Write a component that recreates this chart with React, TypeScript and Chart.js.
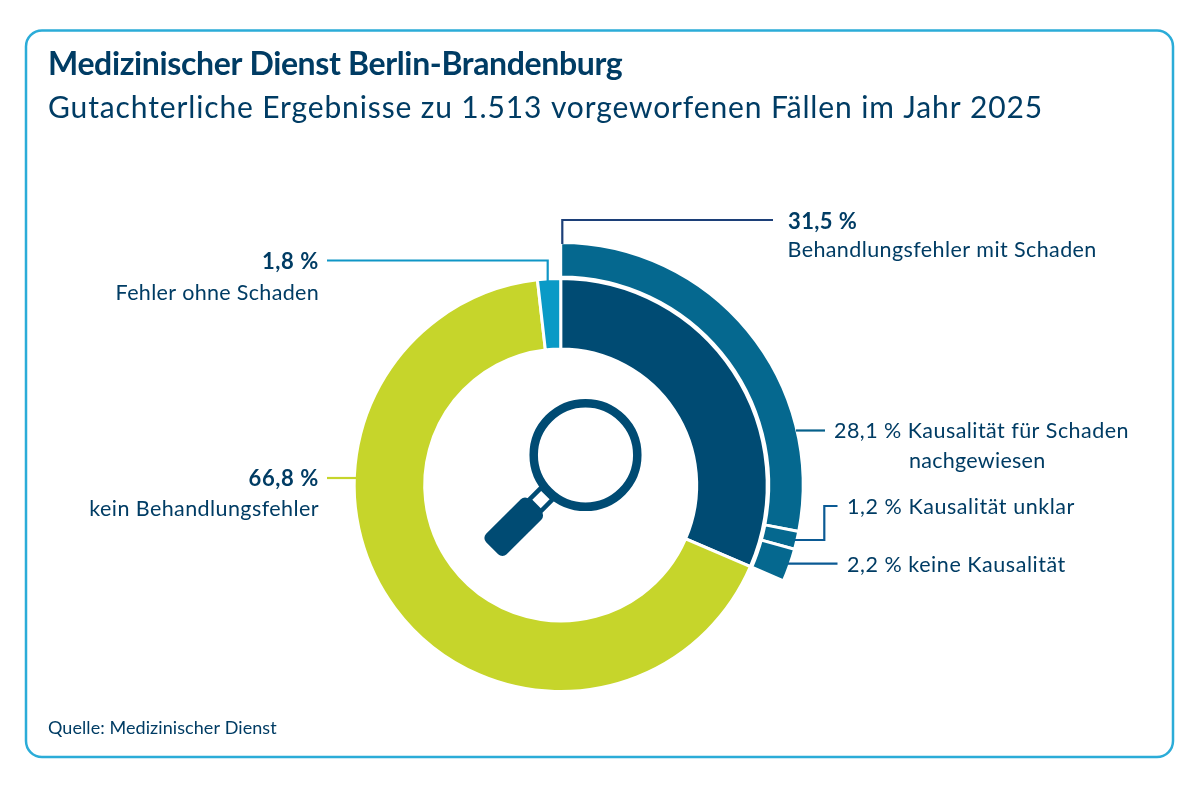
import { useEffect, useRef } from "react";
import { Chart, registerables } from "chart.js";

Chart.register(...registerables);

const outerLabels = ["Kausalität für Schaden nachgewiesen", "Kausalität unklar", "keine Kausalität", "Rest"];
const outerValues = [28.1, 1.2, 2.2, 68.6];
const outerColors = ["#05688f", "#05688f", "#05688f", "transparent"];
const outerBorders = [3, 3, 3, 0];

const innerLabels = ["Behandlungsfehler mit Schaden", "kein Behandlungsfehler", "Fehler ohne Schaden"];
const innerValues = [31.5, 66.8, 1.8];
const innerColors = ["#004b73", "#c6d52b", "#0a9ac6"];

const NAVY = "#003c64";
const FONT = "Lato";

type Txt = [string, number, number, number, boolean?, CanvasTextAlign?, number?];

// text, x, y, size, bold, align, letter spacing
const texts: Txt[] = [
  ["Medizinischer Dienst Berlin-Brandenburg", 48, 75, 32, true, "left", -0.36],
  ["Gutachterliche Ergebnisse zu 1.513 vorgeworfenen Fällen im Jahr 2025", 48, 118, 30, false, "left", 0.87],
  ["31,5 %", 788, 228.5, 22, true, "left", 0.4],
  ["Behandlungsfehler mit Schaden", 787.5, 257, 21.5, false, "left", 0.4],
  ["1,8 %", 319, 269, 22, true, "right", 0.6],
  ["Fehler ohne Schaden", 319, 299.5, 21.5, false, "right", 0.32],
  ["66,8 %", 319, 485.5, 22, true, "right", 0.6],
  ["kein Behandlungsfehler", 319, 516, 21.5, false, "right", 0.42],
  ["28,1 % Kausalität für Schaden", 834, 438, 21.5, false, "left", 0.45],
  ["nachgewiesen", 909, 468, 21.5, false, "left", 0.27],
  ["1,2 % Kausalität unklar", 847, 514, 21.5, false, "left", 0.56],
  ["2,2 % keine Kausalität", 847, 572, 21.5, false, "left", 0.55],
  ["Quelle: Medizinischer Dienst", 48, 734, 18, false, "left", 0.07],
];

// leader lines from the labels to the rings
const leaders: { color: string; pts: number[][] }[] = [
  { color: "#1c3f78", pts: [[773, 220], [562.3, 220], [562.3, 244]] },
  { color: "#0f96c6", pts: [[327, 260.5], [547.7, 260.5], [547.7, 281]] },
  { color: "#c6d52b", pts: [[327, 478], [356, 478]] },
  { color: "#05608a", pts: [[796, 430.5], [825, 430.5]] },
  { color: "#0b5a94", pts: [[795, 540], [824.3, 540], [824.3, 506], [837.5, 506]] },
  { color: "#0b5a94", pts: [[788, 563.7], [837.5, 563.7]] },
];

const overlay = {
  id: "overlay",
  afterDraw(chart: Chart) {
    const ctx = chart.ctx;
    ctx.save();

    // frame
    ctx.strokeStyle = "#2bacd8";
    ctx.lineWidth = 2.5;
    ctx.beginPath();
    ctx.roundRect(26, 30.5, 1147, 726.5, 16);
    ctx.stroke();

    // leaders
    ctx.lineWidth = 2.2;
    ctx.lineJoin = "miter";
    leaders.forEach((l) => {
      ctx.strokeStyle = l.color;
      ctx.beginPath();
      l.pts.forEach((p, i) => (i ? ctx.lineTo(p[0], p[1]) : ctx.moveTo(p[0], p[1])));
      ctx.stroke();
    });

    // texts
    ctx.fillStyle = NAVY;
    ctx.textBaseline = "alphabetic";
    texts.forEach(([t, x, y, size, bold, align, ls]) => {
      ctx.font = `${bold ? "700" : "400"} ${size}px ${FONT}`;
      ctx.textAlign = align || "left";
      (ctx as any).letterSpacing = `${ls || 0}px`;
      ctx.fillText(t, x, y);
    });

    // magnifying glass, x axis rotated along the handle
    ctx.strokeStyle = "#004b73";
    ctx.fillStyle = "#004b73";
    ctx.lineWidth = 8.5;
    ctx.beginPath();
    ctx.arc(585.5, 455, 51.8, 0, Math.PI * 2);
    ctx.stroke();
    ctx.translate(585.5, 455);
    ctx.rotate((Math.PI * 3) / 4);
    ctx.lineWidth = 4.5;
    ctx.strokeRect(54.5, -8.2, 17, 16.4);
    ctx.beginPath();
    ctx.roundRect(71, -14.5, 61, 29, 6);
    ctx.fill();

    ctx.restore();
  },
};

export default function App() {
  const canvasRef = useRef<HTMLCanvasElement>(null);

  useEffect(() => {
    if (!canvasRef.current) return;
    const chart = new Chart(canvasRef.current, {
      type: "doughnut",
      data: {
        labels: innerLabels,
        datasets: [
          {
            label: "Behandlungsfehler mit Schaden",
            data: outerValues,
            backgroundColor: outerColors,
            borderColor: "#ffffff",
            borderWidth: outerBorders,
            weight: 34.5,
          },
          // thin empty ring keeps the two rings apart
          {
            label: "",
            data: [1],
            backgroundColor: "transparent",
            borderWidth: 0,
            weight: 1.5,
          },
          {
            label: "Ergebnisse",
            data: innerValues,
            backgroundColor: innerColors,
            borderColor: "#ffffff",
            borderWidth: 3,
            weight: 70.5,
          },
        ],
      },
      options: {
        responsive: false,
        animation: false,
        devicePixelRatio: 1,
        radius: 242.5,
        cutout: "56.08%",
        layout: { padding: { top: 181, right: 78.6 } },
        elements: { arc: { borderJoinStyle: "miter" } },
        plugins: {
          legend: { display: false },
          tooltip: { enabled: false },
        },
      },
      plugins: [overlay],
    });

    return () => {
      chart.destroy();
    };
  }, []);

  return (
    <div style={{ position: "absolute", left: 0, top: 0, width: 1200, height: 789, background: "#fff" }}>
      <canvas ref={canvasRef} width={1200} height={789} style={{ display: "block" }}></canvas>
    </div>
  );
}
